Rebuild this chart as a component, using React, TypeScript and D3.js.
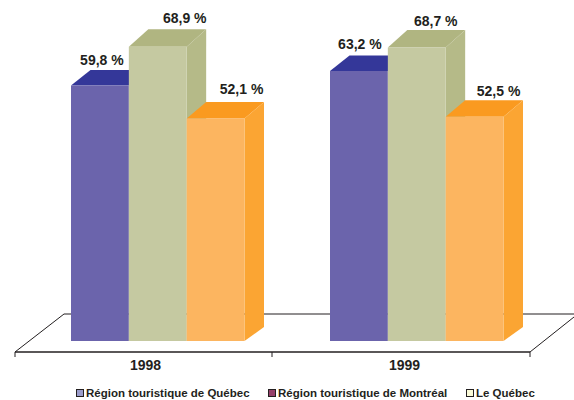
import React from "react";
import * as d3 from "d3";

const years = ["1998", "1999"];
const seriesNames = ["Région touristique de Québec", "Le Québec", "Tourisme"];
const legendNames = ["Région touristique de Québec", "Région touristique de Montréal", "Le Québec"];
const values1998 = [59.8, 68.9, 52.1];
const values1999 = [63.2, 68.7, 52.5];
const labels1998 = ["59,8 %", "68,9 %", "52,1 %"];
const labels1999 = ["63,2 %", "68,7 %", "52,5 %"];
const frontColors = ["#6b64ac", "#c5c9a1", "#fcb560"];
const topColors = ["#343799", "#b0b581", "#fa9a20"];
const sideColors = ["#343799", "#b5ba88", "#fba533"];
const legendColors = ["#9a9ccb", "#96406a", "#fafad8"];

const W = 574, H = 400;
const DX = 19.5;
const topDepth = [15.5, 17.5, 16.5];
const sideBottomDepth = 14;
const baseY = 341;
const FONT = "'Liberation Sans', Arial, sans-serif";
const TEXT = "#231f20";
const labelDx1998 = [2, 27, 26];
const labelDx1999 = [1, 19, 24];
const labelDy1998 = [21, 23.5, 24];
const labelDy1999 = [22, 21.5, 21];

export default function App() {
  const x0 = d3.scaleBand().domain(years).range([15, 533]);
  const y = d3.scaleLinear().domain([0, 70]).range([baseY, baseY - 70 * 4.272]);
  const x1 = d3.scaleBand().domain(seriesNames).range([56, 229.5]);
  const rows = [
    { year: years[0], values: values1998, labels: labels1998, dx: labelDx1998, dy: labelDy1998 },
    { year: years[1], values: values1999, labels: labels1999, dx: labelDx1999, dy: labelDy1999 },
  ];
  const ticks = [15, 272, 530];
  return (
    <div style={{ position: "absolute", left: 0, top: 0, width: W, height: H }}>
      <svg width={W} height={H} style={{ display: "block" }} fontFamily={FONT}>
        <rect width={W} height={H} fill="#fff" />
        <path d="M15,352 L64,314 L574,314" fill="none" stroke={TEXT} strokeWidth={1} />
        <path d="M530,352 L574,317" fill="none" stroke={TEXT} strokeWidth={1} />
        {rows.map((r) => (
          <g key={r.year} transform={`translate(${x0(r.year)},0)`}>
            {r.values.map((v, i) => {
              const name = seriesNames[i];
              const x = x1(name)!;
              const w = x1.bandwidth();
              const t = y(v);
              const dTop = topDepth[i];
              return (
                <g key={name}>
                  <path d={`M${x},${t} l${DX},${-dTop} h${w} l${-DX},${dTop} Z`} fill={topColors[i]} />
                  <path d={`M${x + w},${t} l${DX},${-dTop} V${baseY - sideBottomDepth} L${x + w},${baseY} Z`} fill={sideColors[i]} />
                  <rect x={x} y={t} width={w} height={baseY - t} fill={frontColors[i]} />
                  <text x={x + w / 2 + r.dx[i]} y={t - r.dy[i]} textAnchor="middle" fontSize={14} fontWeight="bold" fill={TEXT}>
                    {r.labels[i]}
                  </text>
                </g>
              );
            })}
            <text x={x0.bandwidth() / 2 + 1} y={370} textAnchor="middle" fontSize={14} fontWeight="bold" fill={TEXT}>
              {r.year}
            </text>
          </g>
        ))}
        <path d="M15,352 H530" fill="none" stroke={TEXT} strokeWidth={1.5} />
        {ticks.map((t) => (
          <line key={t} x1={t} x2={t} y1={352} y2={357} stroke={TEXT} strokeWidth={1} />
        ))}
        {legendNames.map((n, i) => {
          const lx = [76, 268, 466][i];
          return (
            <g key={n}>
              <rect x={lx + 0.5} y={389.5} width={7} height={7} fill={legendColors[i]} stroke={TEXT} strokeWidth={1} />
              <text x={lx + 10} y={396.5} fontSize={11.5} fontWeight="bold" fill={TEXT}>{n}</text>
            </g>
          );
        })}
      </svg>
    </div>
  );
}
